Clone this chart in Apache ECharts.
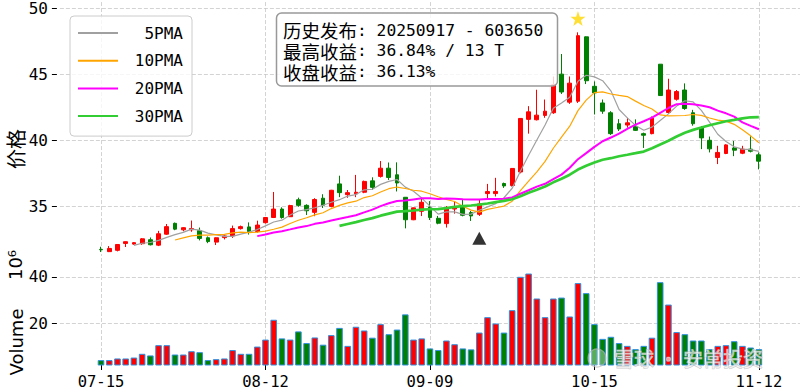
<!DOCTYPE html>
<html><head><meta charset="utf-8">
<script src="https://cdn.jsdelivr.net/npm/echarts@6/dist/echarts.min.js"></script>
<style>html,body{margin:0;padding:0;background:#fff}#c{width:800px;height:391px}</style>
</head><body><div id="c"></div>
<script>
// ---------- data ----------
const dates = ['07-15','07-16','07-17','07-18','07-21','07-22','07-23','07-24','07-25','07-28','07-29','07-30','07-31',
  '08-01','08-04','08-05','08-06','08-07','08-08','08-11','08-12','08-13','08-14','08-15','08-18','08-19','08-20','08-21','08-22','08-25','08-26','08-27','08-28','08-29',
  '09-01','09-02','09-03','09-04','09-05','09-08','09-09','09-10','09-11','09-12','09-15','09-16','09-17','09-18','09-19','09-22','09-23','09-24','09-25','09-26','09-29','09-30',
  '10-09','10-10','10-13','10-14','10-15','10-16','10-17','10-20','10-21','10-22','10-23','10-24','10-27','10-28','10-29','10-30','10-31',
  '11-03','11-04','11-05','11-06','11-07','11-10','11-11','11-12'];
const opens = [31.75,31.58,31.68,32.2,32.15,32.18,32.48,32.07,32.9,33.72,
  33.23,33.23,33.17,32.63,32.3,32.64,32.77,33.32,33.45,33.1,
  33.77,34.16,34.8,34.22,35.5,35.08,34.55,35.62,35.0,36.7,
  35.89,35.95,36.07,36.93,37.27,37.89,37.39,35.69,33.99,34.63,
  34.95,34.1,33.7,34.8,35.03,34.53,34.4,35.97,35.97,36.73,
  36.58,37.6,41.58,41.55,41.88,42.08,45.0,42.88,42.95,47.82,
  44.08,42.82,42.08,41.25,41.15,41.05,40.5,40.5,45.75,42.1,
  43.1,43.8,42.08,40.93,40.0,38.7,39.0,39.42,39.02,39.33,
  38.9];
const closes = [31.72,31.82,32.12,32.33,32.26,32.55,32.1,32.93,33.47,33.28,
  33.39,33.32,32.58,32.34,32.63,32.77,33.32,33.47,33.09,33.59,
  34.16,34.8,34.16,35.06,35.08,34.67,35.52,35.09,36.22,36.04,
  36.04,36.07,36.89,36.44,37.89,37.19,36.77,33.99,34.89,35.31,
  34.16,33.73,34.85,34.9,34.33,34.28,35.19,36.12,36.13,36.55,
  37.87,41.65,42.15,41.9,42.2,44.2,43.65,44.32,47.91,44.5,
  43.58,42.2,40.5,40.85,41.32,40.75,40.38,41.67,43.38,43.8,
  43.68,42.4,41.25,40.18,39.35,39.08,39.65,39.25,39.33,39.17,
  38.42];
const lows = [31.55,31.55,31.6,31.93,32.1,32.1,32.05,32.0,32.85,33.2,
  33.12,33.08,32.43,32.22,32.08,32.5,32.62,33.25,32.87,33.02,
  33.7,34.12,34.07,34.2,34.97,34.35,34.26,34.88,34.93,35.7,
  35.65,35.7,36.0,36.25,37.18,37.0,36.13,33.34,33.96,34.27,
  33.97,33.65,33.4,34.45,34.25,33.9,34.28,35.55,35.75,36.4,
  36.5,37.5,40.5,41.5,41.7,42.0,43.5,42.75,42.82,44.25,
  41.95,42.0,40.4,40.7,40.95,40.7,39.42,40.45,43.35,42.0,
  43.0,42.3,41.1,39.33,39.08,38.2,38.95,38.8,38.95,39.08,
  37.8];
const highs = [31.95,32.0,32.15,32.35,32.3,32.6,32.65,33.15,33.67,33.78,
  33.43,33.93,33.4,32.73,32.65,32.82,33.55,33.55,33.79,33.92,
  34.2,36.09,34.93,35.12,35.66,35.16,35.62,35.92,36.25,37.32,
  36.24,37.38,36.95,37.2,38.43,38.32,38.33,35.69,34.91,35.58,
  35.4,34.28,35.03,35.4,35.52,34.65,35.53,36.7,37.16,36.8,
  37.9,41.67,42.58,43.82,43.08,44.82,46.52,44.82,48.16,47.85,
  44.45,43.08,42.2,41.6,41.7,41.58,40.58,41.8,45.76,44.65,
  43.8,44.3,42.3,41.08,40.28,39.58,39.7,39.95,39.58,40.3,
  39.08];
const volumes = [4.3,4.3,5.0,5.0,5.4,7.0,6.3,10.7,10.7,6.7,
  6.7,8.1,7.7,4.3,4.7,5.0,8.6,7.0,7.0,10.1,
  13.1,21.6,13.6,13.1,16.6,11.6,14.0,10.9,15.0,18.1,
  10.4,18.6,17.0,13.9,19.7,15.4,17.4,23.9,13.1,13.6,
  9.3,8.6,12.7,11.1,9.3,8.9,16.1,22.7,20.0,16.1,
  25.7,40.0,41.4,30.7,22.7,30.7,31.1,23.0,37.3,33.0,
  19.7,13.4,14.3,11.6,10.4,9.0,10.4,13.9,37.7,28.1,
  16.3,15.4,12.7,12.7,9.0,10.4,10.7,12.4,10.4,9.7,
  9.0];
const priceTicks = [35, 40, 45, 50];
const volumeTicks = [20, 40];
const dateTicks = ['07-15','08-12','09-09','10-15','11-12'];
const maPeriods = [5, 10, 20, 30];
const maNames = ['5PMA', '10PMA', '20PMA', '30PMA'];
const signalDate = '09-17', signalMarker = 32.6;   // black triangle
const peakDate = '10-13', peakMarker = 49.2;       // gold star
const noteHeads = ['历史发布', '最高收益', '收盘收益'];
const noteValues = [': 20250917 - 603650', ': 36.84% / 13 T', ': 36.13%'];

// ---------- styles ----------
const PAD = 5;
const maColors = ['#a0a0a0', '#ffa500', '#ff00ff', '#32cd32'];
const maWidths = [1.2, 1.2, 2, 2.7];
const UP = '#ff0000', DOWN = '#008000';
const MONO = 'DejaVu Sans Mono';
const CJK = 'Noto Sans CJK SC';
const gridLine = {show: true, lineStyle: {color: '#c8c8c8', width: 0.8, type: [4, 2]}};

const cats = [];
for (let i = 0; i < PAD; i++) cats.push('L' + i);
dates.forEach(d => cats.push(d));
for (let i = 0; i < PAD; i++) cats.push('R' + i);
const isTick = (idx, val) => dateTicks.indexOf(val) >= 0;

function movingAverage(vals, n) {
  const out = [];
  for (let i = n - 1; i < vals.length; i++) {
    let s = 0;
    for (let k = i - n + 1; k <= i; k++) s += vals[k];
    out.push([i + PAD, s / n]);
  }
  return out;
}

const candleData = dates.map((d, i) => [i + PAD, opens[i], closes[i], lows[i], highs[i]]);
const volData = dates.map((d, i) => ({
  value: [i + PAD, volumes[i]],
  itemStyle: {color: closes[i] >= opens[i] ? UP : DOWN}
}));

const series = [{
  type: 'candlestick', name: 'price', xAxisIndex: 0, yAxisIndex: 0,
  data: candleData, encode: {x: 0, y: [1, 2, 3, 4]},
  barWidth: 4.3,
  itemStyle: {color: UP, color0: DOWN, borderColor: UP, borderColor0: DOWN, borderWidth: 1},
  z: 2
}];
maPeriods.forEach((p, k) => {
  series.push({
    type: 'line', name: maNames[k], xAxisIndex: 0, yAxisIndex: 0,
    data: movingAverage(closes, p), symbol: 'none', showSymbol: false,
    lineStyle: {color: maColors[k], width: maWidths[k]}, itemStyle: {color: maColors[k]},
    z: 3
  });
});
series.push({
  type: 'bar', name: 'vol', xAxisIndex: 1, yAxisIndex: 1, data: volData,
  barWidth: 6.6, itemStyle: {borderColor: '#2f8fe0', borderWidth: 1}
});
series.push({
  type: 'scatter', name: 'peak', xAxisIndex: 0, yAxisIndex: 0,
  data: [[peakDate, peakMarker]],
  symbol: 'path://M50,0 L61.8,35.1 L98.9,35.1 L69.1,56.7 L80.3,91.9 L50,70.2 L19.7,91.9 L30.9,56.7 L1.1,35.1 L38.2,35.1 Z',
  symbolSize: 15, itemStyle: {color: '#ffd700'}, z: 5
});
series.push({
  type: 'scatter', name: 'signal', xAxisIndex: 0, yAxisIndex: 0,
  data: [[signalDate, signalMarker]],
  symbol: 'triangle', symbolSize: [14, 13], itemStyle: {color: '#000'}, z: 5
});

const noteGraphics = noteHeads.map((h, i) => ({
  type: 'text', x: 283, y: 30 + i * 20.8, z: 101,
  style: {text: '{c|' + h + '}{n|' + noteValues[i] + '}', verticalAlign: 'middle', fill: '#000',
    rich: {c: {fontFamily: CJK, fontSize: 18.5, lineHeight: 19, fill: '#000'},
           n: {fontFamily: MONO, fontSize: 16.3, lineHeight: 19, fill: '#000'}}}
}));

const option = {
  animation: false,
  backgroundColor: '#fff',
  grid: [
    {left: 59.9, right: 0, top: 0, height: 256},
    {left: 59.9, right: 0, top: 258, height: 107}
  ],
  xAxis: [
    {type: 'category', gridIndex: 0, data: cats, boundaryGap: false,
     axisLine: {show: false}, axisTick: {show: false}, axisLabel: {show: false},
     splitLine: Object.assign({interval: isTick}, gridLine)},
    {type: 'category', gridIndex: 1, data: cats, boundaryGap: false,
     axisLine: {show: false},
     axisTick: {show: true, interval: isTick, length: 5, lineStyle: {color: '#000', width: 1}},
     axisLabel: {interval: isTick, fontFamily: MONO, fontSize: 15.5, color: '#000', margin: 9},
     splitLine: Object.assign({interval: isTick}, gridLine)}
  ],
  yAxis: [
    {type: 'value', gridIndex: 0, min: 31.25, max: 50.45, splitNumber: 4, offset: 3,
     axisLine: {show: false},
     axisTick: {show: true, customValues: priceTicks, length: 5, lineStyle: {color: '#000', width: 1}},
     axisLabel: {customValues: priceTicks, fontFamily: MONO, fontSize: 16, color: '#000', margin: 9},
     splitLine: gridLine},
    {type: 'value', gridIndex: 1, min: 2.2, max: 48.06, splitNumber: 2, offset: 3,
     axisLine: {show: false},
     axisTick: {show: true, customValues: volumeTicks, length: 5, lineStyle: {color: '#000', width: 1}},
     axisLabel: {customValues: volumeTicks, fontFamily: MONO, fontSize: 16, color: '#000', margin: 9},
     splitLine: gridLine}
  ],
  legend: {
    orient: 'vertical', left: 70, top: 16,
    data: maNames.map(n => ({name: n, itemStyle: {opacity: 0, borderWidth: 0, color: 'rgba(0,0,0,0)'}})),
    itemWidth: 40, itemHeight: 14, itemGap: 11.7,
    padding: [9, 9, 12, 7],
    backgroundColor: 'rgba(255,255,255,0.8)', borderColor: '#cccccc', borderWidth: 1, borderRadius: 4,
    formatter: n => '{r|' + n + '}',
    textStyle: {color: '#000', fontFamily: MONO, fontSize: 16,
      rich: {r: {width: 60, align: 'right', fontFamily: MONO, fontSize: 16, lineHeight: 14, color: '#000'}}}
  },
  graphic: [
    {type: 'text', x: 15, y: 149, rotation: Math.PI / 2,
     style: {text: '价格', font: '20px "Noto Sans CJK SC"', fill: '#000', align: 'center', verticalAlign: 'middle'}},
    {type: 'text', x: 15, y: 265, rotation: Math.PI / 2,
     style: {text: '10⁶', font: '18px "DejaVu Sans"', fill: '#000', align: 'center', verticalAlign: 'middle'}},
    {type: 'text', x: 16, y: 342, rotation: Math.PI / 2,
     style: {text: 'Volume', font: '18px "DejaVu Sans"', fill: '#000', align: 'center', verticalAlign: 'middle'}},
    {type: 'rect', shape: {x: 276.5, y: 13, width: 281, height: 73, r: 5}, z: 100,
     style: {fill: 'rgba(255,255,255,0.8)', stroke: '#999', lineWidth: 1.5}},
    ...noteGraphics,
    {type: 'circle', shape: {cx: 597, cy: 358, r: 9}, z: 100,
     style: {fill: 'rgba(255,255,255,0.35)', stroke: 'rgba(180,180,180,0.7)', lineWidth: 1.2}},
    {type: 'text', x: 614, y: 358, z: 100,
     style: {text: '雪球 · 安常投资', font: '20px "Noto Sans CJK SC"', fill: 'rgba(255,255,255,0.6)',
       stroke: 'rgba(180,180,180,0.7)', lineWidth: 1, verticalAlign: 'middle'}}
  ],
  series: series
};

const chart = echarts.init(document.getElementById('c'), null, {renderer: 'svg'});
chart.setOption(option);
</script>
</body></html>
